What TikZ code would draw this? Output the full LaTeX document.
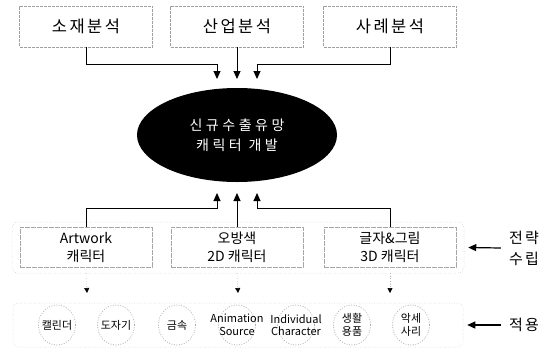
\documentclass[tikz,border=0pt]{standalone}
\usepackage{fontspec}
\setmainfont{Noto Sans CJK KR}
\newfontfamily\ksp[LetterSpace=15]{Noto Sans CJK KR}
\newfontfamily\kspw[LetterSpace=25]{Noto Sans CJK KR}
\usetikzlibrary{arrows.meta,shapes.geometric}
\begin{document}
\begin{tikzpicture}[x=1pt,y=-1pt,
  topbox/.style={draw=gray!75, dash pattern=on 3pt off 1pt, line width=0.6pt,
    minimum width=133pt, minimum height=41pt, inner sep=0pt,
    font=\ksp\fontsize{16.5}{19}\selectfont},
  midbox/.style={draw=gray!70, dash pattern=on 5pt off 1pt, line width=0.6pt,
    minimum width=132pt, minimum height=40pt, inner sep=0pt, align=center,
    font=\fontsize{14}{18}\selectfont},
  groupbox/.style={draw=gray!55, dotted, line width=0.5pt, rounded corners=6pt,
    inner sep=0pt},
  core/.style={ellipse, fill=black, minimum width=200pt, minimum height=94pt,
    inner sep=0pt, align=center, text=white,
    font=\kspw\fontsize{14}{20}\selectfont},
  circ/.style={ellipse, draw=gray!70, dash pattern=on 1pt off 1.5pt, line width=0.6pt,
    minimum width=37pt, minimum height=40pt, inner sep=0pt},
  ctext/.style={align=center, inner sep=0pt, font=\fontsize{11}{12.5}\selectfont},
  sidetext/.style={align=center, inner sep=0pt, font=\ksp\fontsize{15}{21}\selectfont},
  arr/.style={line width=1pt, -{Triangle[length=8pt,width=7pt]}},
  dotarr/.style={gray!60, dotted, line width=0.6pt,
    -{Triangle[length=5pt,width=5pt,color=black]}},
  sidearr/.style={line width=1.2pt, -{Triangle[length=8pt,width=7pt]}}
]
\useasboundingbox (0,0) rectangle (545,357);

% top analysis boxes
\node[topbox] (b1) at (86,26.5)  {소재분석};
\node[topbox] (b2) at (237,26.5) {산업분석};
\node[topbox] (b3) at (390,26.5) {사례분석};

% core ellipse
\node[core] (core) at (237,135) {신규수출유망\\캐릭터 개발};

% top arrow end points
\coordinate (t1) at (217,79);
\coordinate (t2) at (237,79);
\coordinate (t3) at (257,79);
\draw[arr] (b1.south) -- ++(0,17) -| (t1);
\draw[arr] (b2.south) -- (t2);
\draw[arr] (b3.south) -- ++(0,17) -| (t3);

% strategy group
\node[groupbox, minimum width=452pt, minimum height=51pt] (grp) at (238,247.5) {};
\node[midbox] (c1) at (86,247)  {Artwork\\캐릭터};
\node[midbox] (c2) at (237,247) {오방색\\2D 캐릭터};
\node[midbox] (c3) at (390,247) {글자\&그림\\3D 캐릭터};

\coordinate (u1) at (217,193);
\coordinate (u2) at (237,193);
\coordinate (u3) at (257,193);
\draw[arr] (c1.north) -- (86,208) -| (u1);
\draw[arr] (c2.north) -- (u2);
\draw[arr] (c3.north) -- (390,208) -| (u3);

% application group
\node[groupbox, minimum width=450pt, minimum height=44pt] (app) at (238,325) {};

\coordinate (d1) at (87,293);
\coordinate (d2) at (238,293);
\coordinate (d3) at (390,293);
\draw[dotarr] (c1.south |- grp.south) -- (d1);
\draw[dotarr] (c2.south |- grp.south) -- (d2);
\draw[dotarr] (c3.south |- grp.south) -- (d3);

\node[circ] (k1) at (57,325) {};
\node[circ] (k2) at (116,325) {};
\node[circ] (k3) at (177,325) {};
\node[circ] (k4) at (237,325) {};
\node[circ] (k5) at (296,325) {};
\node[circ] (k6) at (352,325) {};
\node[circ] (k7) at (411,325) {};
\node[ctext] (l1) at (k1) {캘린더};
\node[ctext] (l2) at (k2) {도자기};
\node[ctext] (l3) at (k3) {금속};
\node[ctext] (l4) at (k4) {Animation\\Source};
\node[ctext] (l5) at (k5) {Individual\\Character};
\node[ctext] (l6) at (k6) {생활\\용품};
\node[ctext] (l7) at (k7) {악세\\사리};

% side labels
\node[sidetext] (s1) at (524,248) {전략\\수립};
\node[sidetext] (s2) at (524,325) {적용};
\draw[sidearr] ([xshift=-8pt]s1.west) -- ([xshift=4pt]grp.east);
\draw[sidearr] ([xshift=-8pt]s2.west) -- ([xshift=4pt]app.east);
\end{tikzpicture}
\end{document}
